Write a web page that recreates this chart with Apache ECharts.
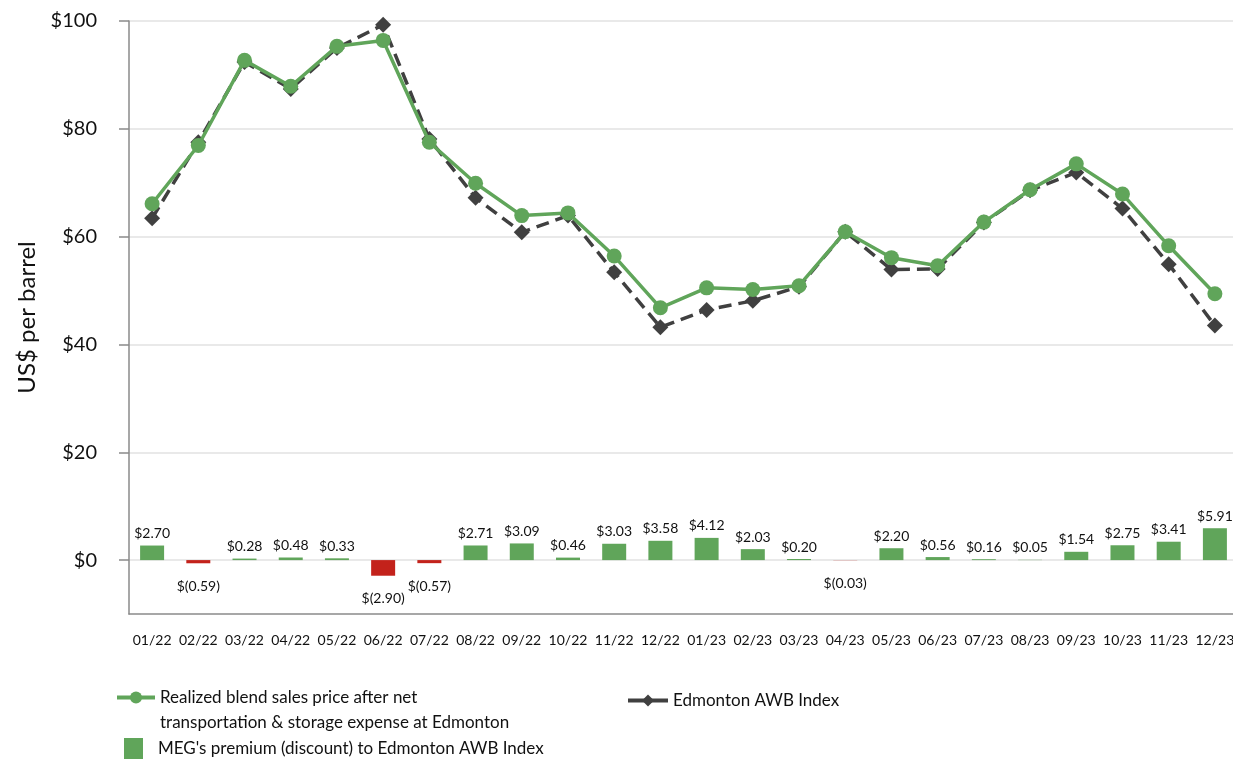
<!DOCTYPE html>
<html>
<head>
<meta charset="utf-8">
<script src="https://cdn.jsdelivr.net/npm/echarts@6/dist/echarts.min.js"></script>
<style>
  html, body { margin: 0; padding: 0; background: #fff; }
  #chart { width: 1233px; height: 760px; }
</style>
</head>
<body>
<div id="chart"></div>
<script>
const months = ['01/22', '02/22', '03/22', '04/22', '05/22', '06/22', '07/22', '08/22', '09/22', '10/22', '11/22', '12/22',
  '01/23', '02/23', '03/23', '04/23', '05/23', '06/23', '07/23', '08/23', '09/23', '10/23', '11/23', '12/23']

// realized blend sales price after net transportation & storage (US$/bbl)
const realized = [66.1, 76.9, 92.7, 87.9, 95.3, 96.4, 77.5, 69.9, 63.9, 64.4, 56.4, 46.8,
  50.5, 50.2, 50.9, 60.9, 56.1, 54.6, 62.7, 68.7, 73.5, 67.9, 58.3, 49.4]

// Edmonton AWB index (US$/bbl)
const awb = [63.4, 77.5, 92.4, 87.4, 95.0, 99.3, 78.1, 67.2, 60.8, 63.9, 53.4, 43.2,
  46.4, 48.1, 50.7, 60.9, 53.9, 54.0, 62.6, 68.6, 71.9, 65.2, 54.9, 43.5]

// MEG premium (discount) to Edmonton AWB
const premium = [2.70, -0.59, 0.28, 0.48, 0.33, -2.90, -0.57, 2.71, 3.09, 0.46, 3.03, 3.58,
  4.12, 2.03, 0.20, -0.03, 2.20, 0.56, 0.16, 0.05, 1.54, 2.75, 3.41, 5.91]

const yTicks = [0, 20, 40, 60, 80, 100]

const GREEN = '#60a55a'
const RED = '#c3221b'
const DARK = '#404040'
const AXIS = '#8a8a8a'
const FONT = 'Lato, "Open Sans", sans-serif'

const NAME_REALIZED = 'Realized blend sales price after net transportation & storage expense at Edmonton'
const NAME_AWB = 'Edmonton AWB Index'
const NAME_PREMIUM = "MEG's premium (discount) to Edmonton AWB Index"

function money(v) {
  return v < 0 ? '$(' + Math.abs(v).toFixed(2) + ')' : '$' + v.toFixed(2)
}

const barData = premium.map(v => ({
  value: v,
  itemStyle: v < 0 ? { color: RED } : undefined,
  label: { position: v < 0 ? 'bottom' : 'top', distance: v < 0 ? 16 : 5 },
}))

const chart = echarts.init(document.getElementById('chart'), null, { renderer: 'canvas' })

const legendText = { color: '#111', fontSize: 17, fontFamily: FONT, lineHeight: 25 }

chart.setOption({
  animation: false,
  textStyle: { fontFamily: FONT },
  grid: { left: 129, right: -5, top: 21, bottom: 146, containLabel: false, outerBoundsMode: 'none' },
  legend: [
    {
      left: 115, top: 660, padding: 0,
      data: [NAME_REALIZED],
      itemWidth: 38, itemHeight: 15,
      lineStyle: { width: 4 },
      textStyle: legendText,
      formatter: () => '\nRealized blend sales price after net\ntransportation & storage expense at Edmonton',
    },
    {
      left: 626, top: 688, padding: 0,
      data: [NAME_AWB],
      itemWidth: 40, itemHeight: 15,
      lineStyle: { width: 4, type: 'solid' },
      textStyle: legendText,
    },
    {
      left: 124, top: 736, padding: 0,
      data: [{ name: NAME_PREMIUM, icon: 'rect' }],
      itemWidth: 19, itemHeight: 21,
      textStyle: Object.assign({}, legendText, { padding: [0, 0, 0, 10] }),
    },
  ],
  xAxis: {
    type: 'category',
    data: months,
    axisLine: { onZero: false, lineStyle: { color: AXIS, width: 1.5 } },
    axisTick: { alignWithLabel: true, length: 10, lineStyle: { color: AXIS, width: 1.5 } },
    axisLabel: { color: '#111', fontSize: 14, margin: 19, interval: 0 },
  },
  yAxis: {
    type: 'value',
    min: -10,
    max: 100,
    name: 'US$ per barrel',
    nameLocation: 'middle',
    nameGap: 90,
    nameTextStyle: { color: '#111', fontSize: 24, fontFamily: FONT },
    axisLine: { show: true, lineStyle: { color: AXIS, width: 1.5 } },
    axisTick: { show: true, length: 10, customValues: yTicks, lineStyle: { color: AXIS, width: 1.5 } },
    axisLabel: { customValues: yTicks, color: '#111', fontSize: 20, margin: 32, formatter: v => '$' + v },
    splitLine: { show: true, lineStyle: { color: '#e2e2e2', width: 1.5 } },
  },
  series: [
    {
      name: NAME_PREMIUM,
      type: 'bar',
      data: barData,
      barWidth: 24,
      itemStyle: { color: GREEN },
      label: {
        show: true,
        color: '#111',
        fontSize: 14,
        formatter: p => money(p.value),
      },
      z: 1,
    },
    {
      name: NAME_AWB,
      type: 'line',
      data: awb,
      symbol: 'diamond',
      symbolSize: 16,
      itemStyle: { color: DARK },
      lineStyle: { color: DARK, width: 3.5, type: [13, 7] },
      z: 2,
    },
    {
      name: NAME_REALIZED,
      type: 'line',
      data: realized,
      symbol: 'circle',
      symbolSize: 15,
      itemStyle: { color: GREEN },
      lineStyle: { color: GREEN, width: 3.5 },
      z: 3,
    },
  ],
})
</script>
</body>
</html>
